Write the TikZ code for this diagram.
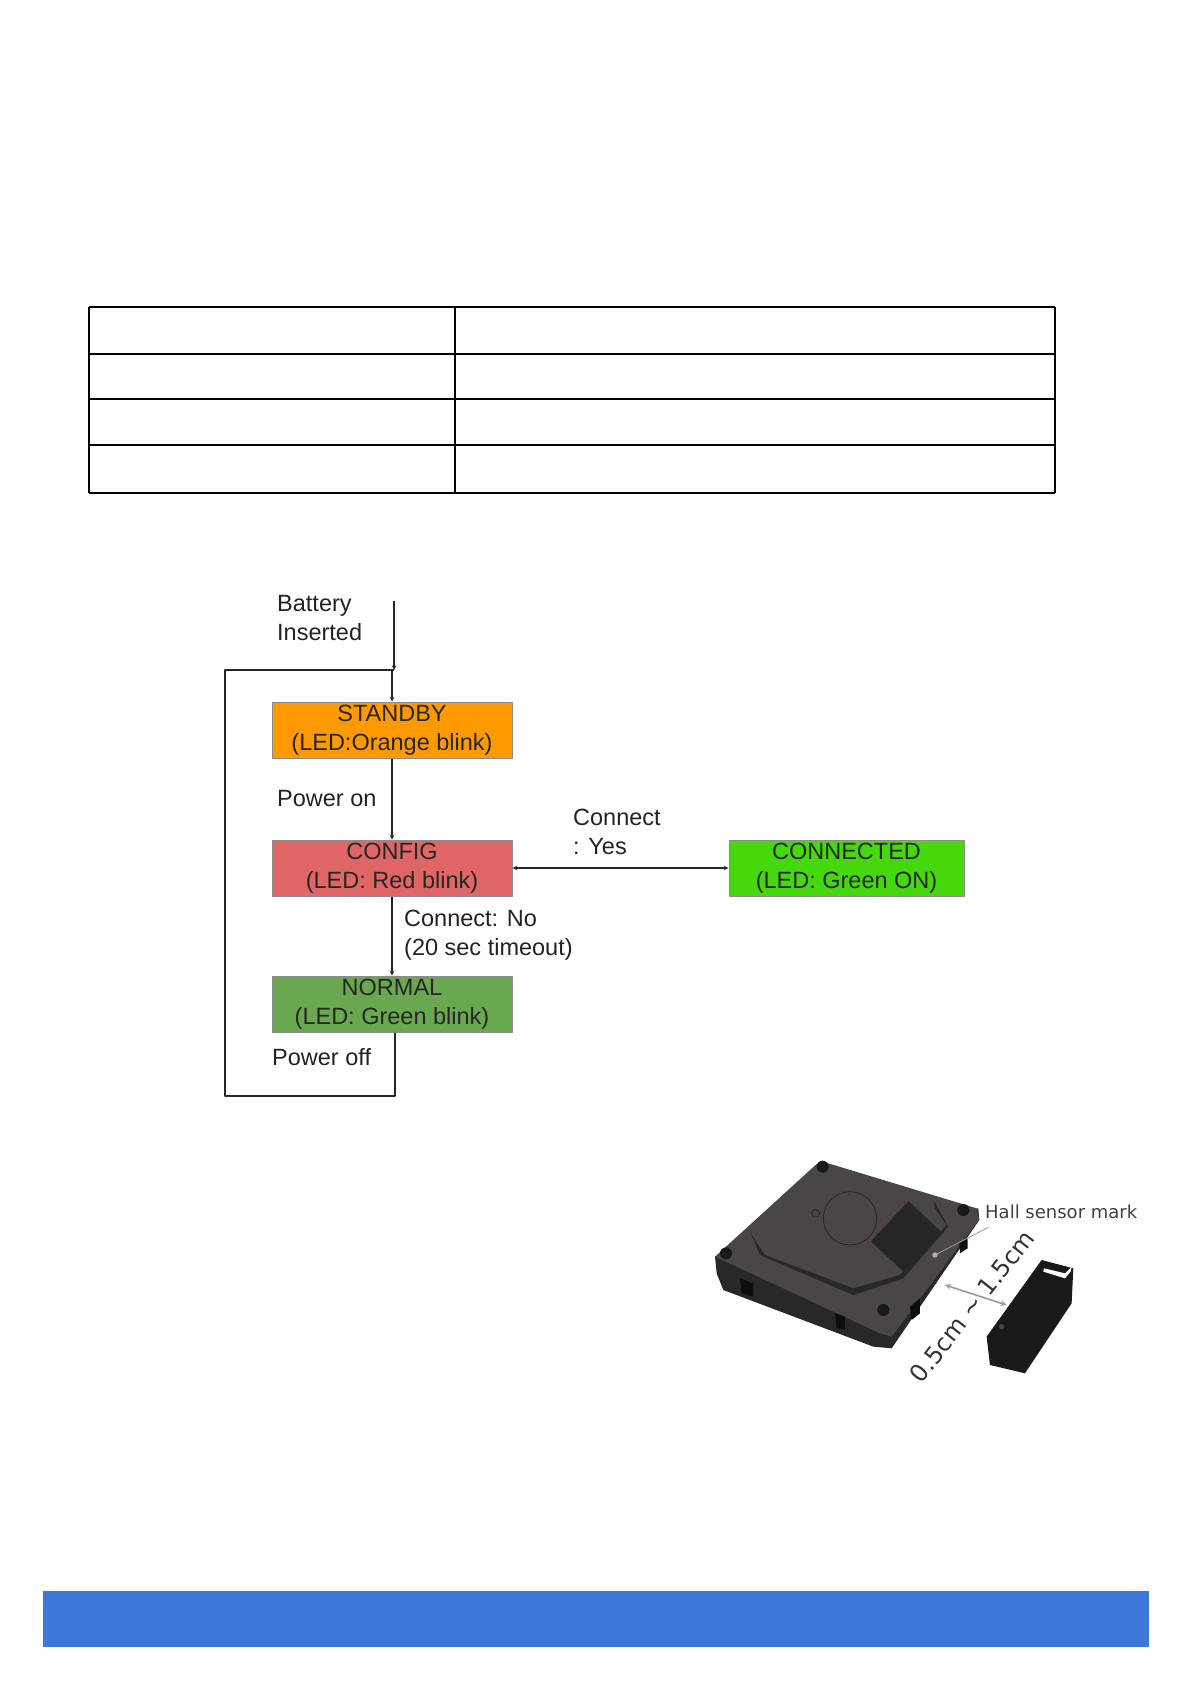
\documentclass[tikz,border=0pt]{standalone}
\usepackage{fontspec}
\setmainfont{Liberation Sans}
\newfontfamily\halfont{DejaVu Sans}
\definecolor{barblue}{HTML}{3C78D8}
\definecolor{standbyorange}{HTML}{FF9900}
\definecolor{configred}{HTML}{E06666}
\definecolor{normalgreen}{HTML}{6AA84F}
\definecolor{connectgreen}{HTML}{45D90B}
\definecolor{labelgray}{HTML}{222222}
\definecolor{faceblack}{HTML}{4A4547}
\definecolor{sideblack}{HTML}{2A2728}
\tikzset{
	statebox/.style={draw=black!45,line width=1pt,minimum width=240,minimum height=56,inner sep=0pt,align=center,
		font=\fontsize{23.5}{29}\selectfont,text=black!85},
	edgelabel/.style={anchor=west,align=left,inner sep=0pt,font=\fontsize{23.5}{29}\selectfont,text=labelgray},
	edgeline/.style={line width=1.1pt,black!85},
	tableline/.style={line width=2pt,black}
}
\begin{document}
\begin{tikzpicture}[x=1pt,y=-1pt,line join=round,>=stealth]
	\useasboundingbox (0,0) rectangle (1192,1684);
	% table
	\foreach \y in {307,353.5,399,445,493}
	\draw[tableline] (89,\y)--(1055,\y);
	\foreach \x in {89,455,1055}
	\draw[tableline] (\x,307)--(\x,493);
	% states
	\node[statebox,fill=standbyorange] (standby) at (392,730) {STANDBY\\(LED:Orange blink)};
	\node[statebox,fill=configred] (config) at (392,868) {CONFIG\\(LED: Red blink)};
	\node[statebox,fill=normalgreen] (normal) at (392,1004) {NORMAL\\(LED: Green blink)};
	\node[statebox,fill=connectgreen,minimum width=235] (connected) at (846.5,868) {CONNECTED\\(LED: Green ON)};
	% labels
	\node[edgelabel] (battery) at (277,618) {Battery\\Inserted};
	\node[edgelabel] (poweron) at (277,799) {Power on};
	\node[edgelabel] (connectyes) at (573,832) {Connect\\: Yes};
	\node[edgelabel] (connectno) at (404,935) {Connect: No\\(20 sec timeout)};
	\node[edgelabel] (poweroff) at (272,1057) {Power off};
	% connectors
	\coordinate (start) at (394,601);
	\coordinate (merge) at (394,670);
	\coordinate (looptop) at (225,670);
	\coordinate (loopbottom) at (225,1096);
	\coordinate (loopend) at (395,1096);
	\draw[edgeline,->] (start)--(merge);
	\draw[edgeline,->] (merge-|standby.north)--(standby.north);
	\draw[edgeline,->] (standby.south)--(config.north);
	\draw[edgeline,->] (config.south)--(normal.north);
	\draw[edgeline,<->] (config.east)--(connected.west);
	\draw[edgeline] (normal.south-|loopend)--(loopend)--(loopbottom)--(looptop)--(merge);
	% device photo
	\begin{scope}[shift={(700,1140)},x=0.3333pt,y=-0.3333pt]
		\fill[sideblack] (45,350)--(50,400)--(70,450)--(520,620)--(575,625)--(838,240)--(835,205)--cycle;
		\fill[faceblack] (45,350)--(350,72)--(385,70)--(830,205)--(838,238)--(575,590)--(540,580)--cycle;
		\fill[sideblack] (150,275)--(180,345)--(460,465)--(610,415)--(745,260)--(700,180)--(705,205)--(740,255)--(600,405)--(460,445)--(195,345)--(165,300)--cycle;
		\draw[sideblack,line width=0.8pt] (450,235) circle[radius=80];
		\draw[sideblack,line width=0.8pt] (347,220) circle[radius=12];
		\fill[black!85,rotate around={47:(615,290)}] (535,225) rectangle (700,360);
		\foreach \hx/\hy in {368/80,790/210,78/340,550/510}
		\fill[black!90] (\hx,\hy) circle[radius=18];
		\fill[black!95] (120,415)--(160,430)--(160,470)--(125,460)--cycle;
		\fill[black!95] (405,520)--(435,530)--(435,570)--(410,565)--cycle;
		\fill[black!95] (630,500)--(660,475)--(660,520)--(635,540)--cycle;
		\fill[black!95] (778,310)--(803,295)--(803,325)--(780,340)--cycle;
		% magnet
		\fill[black!90] (1025,360)--(1120,385)--(1115,490)--(975,700)--(870,675)--(860,590)--cycle;
		\fill[black!72] (905,560) circle[radius=8];
		\fill[white] (1032,385)--(1095,400)--(1115,380)--(1112,395)--(1095,415)--(1030,395)--cycle;
		% gap marks
		\draw[gray!80,line width=1.6pt,<->] (735,435)--(920,495);
		\draw[gray!80,line width=0.8pt] (865,262)--(705,345);
		\fill[gray!60] (705,345) circle[radius=8];
	\end{scope}
	\node[anchor=west,inner sep=0pt,font=\halfont\fontsize{18}{22}\selectfont,text=black!75] (hallmark) at (985,1212) {Hall sensor mark};
	\node[rotate=52,inner sep=0pt,font=\halfont\fontsize{24}{28}\selectfont,text=black!80] (gaplabel) at (972,1306) {0.5cm \textasciitilde{} 1.5cm};
	% footer
	\fill[barblue] (43,1590.5) rectangle (1149,1647);
\end{tikzpicture}
\end{document}
